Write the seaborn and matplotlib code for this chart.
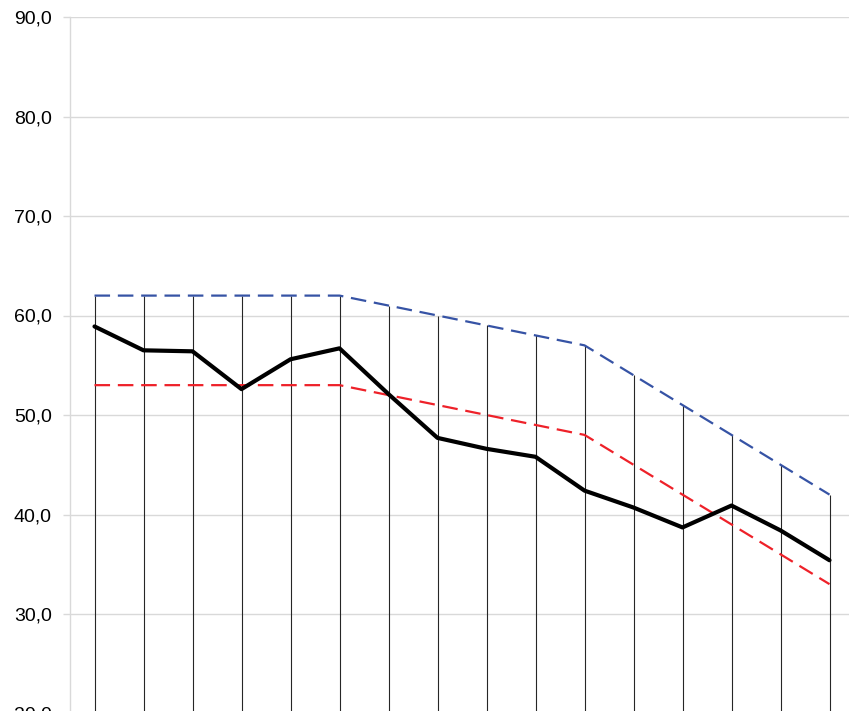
import matplotlib
matplotlib.use("Agg")
import matplotlib.pyplot as plt
import seaborn as sns
import pandas as pd
from matplotlib.ticker import FuncFormatter

# Series values per period (16 periods)
periods = list(range(16))
upper = [62, 62, 62, 62, 62, 62, 61, 60, 59, 58, 57, 54, 51, 48, 45, 42]
lower = [53, 53, 53, 53, 53, 53, 52, 51, 50, 49, 48, 45, 42, 39, 36, 33]
actual = [58.9, 56.5, 56.4, 52.6, 55.6, 56.7, 52.1, 47.7, 46.6, 45.8,
          42.4, 40.7, 38.7, 40.9, 38.4, 35.4]
y_ticks = [20, 30, 40, 50, 60, 70, 80, 90]

df = pd.DataFrame({"period": periods, "upper": upper, "lower": lower, "actual": actual})

sns.set_theme(style="white")
plt.rcParams["font.family"] = ["Liberation Sans", "DejaVu Sans"]

fig = plt.figure(figsize=(8.49, 7.11), dpi=100)
ax = fig.add_axes([70 / 849, -2.5 / 711, 784 / 849, (713.5 - 17) / 711])

# Drop lines from the upper band down through the bottom of the plot
ax.vlines(df["period"], 15, df["upper"], colors="#262626", linewidth=0.8, zorder=2)

sns.lineplot(data=df, x="period", y="upper", ax=ax, color="#3653A5",
             linewidth=1.6, dashes=False, zorder=3).lines[-1].set_dashes((7, 3.5))
sns.lineplot(data=df, x="period", y="lower", ax=ax, color="#EE2129",
             linewidth=1.6, zorder=3).lines[-1].set_dashes((7, 3.5))
sns.lineplot(data=df, x="period", y="actual", ax=ax, color="black",
             linewidth=3.0, zorder=4)

ax.set_xlim(-0.5, 15.5)
ax.set_ylim(20, 90)
ax.set_yticks(y_ticks)
ax.yaxis.set_major_formatter(FuncFormatter(lambda v, _: f"{v:.1f}".replace(".", ",")))
ax.set_xticks([])
ax.set_xlabel("")
ax.set_ylabel("")

ax.grid(axis="y", color="#d9d9d9", linewidth=1.0, zorder=0)
ax.set_axisbelow(True)
for side in ["top", "right", "bottom"]:
    ax.spines[side].set_visible(False)
ax.spines["left"].set_color("#d9d9d9")
ax.spines["left"].set_linewidth(1.0)
ax.tick_params(axis="y", length=5, width=1.0, color="#d9d9d9", pad=8,
               labelsize=14, labelcolor="black", left=True)

fig.savefig("out.png", dpi=100)
